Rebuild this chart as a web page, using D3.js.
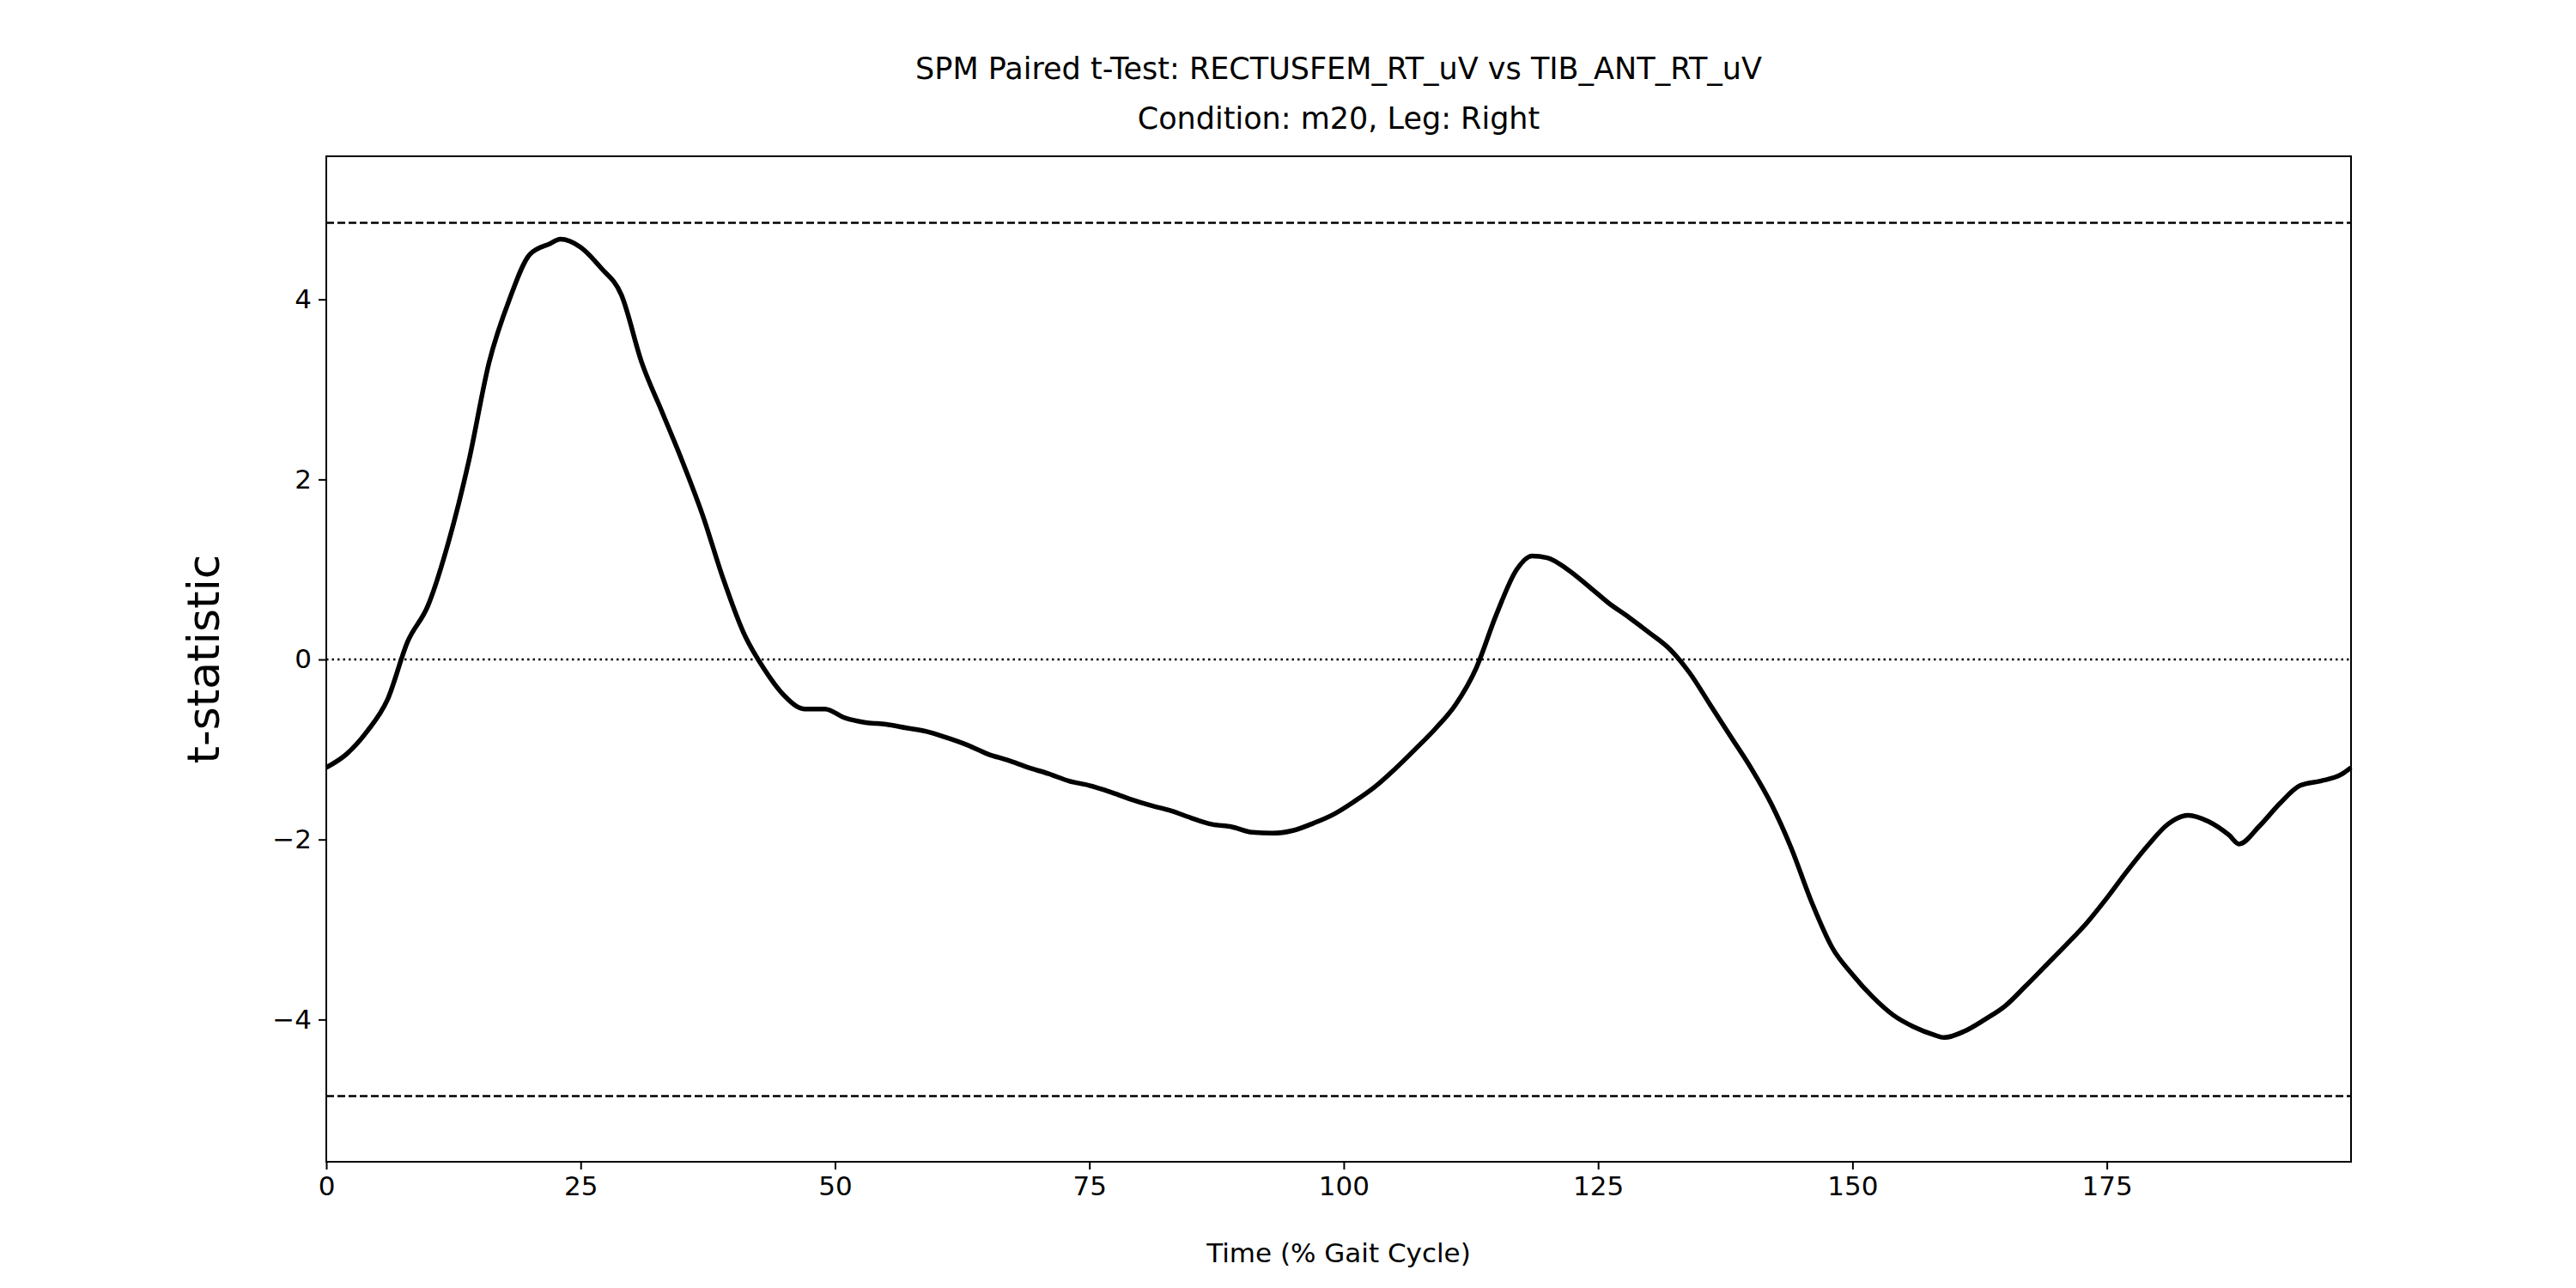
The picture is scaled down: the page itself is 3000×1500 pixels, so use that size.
<!DOCTYPE html>
<html>
<head>
<meta charset="utf-8">
<script src="https://cdn.jsdelivr.net/npm/d3@7"></script>
<style>
body { margin: 0; background: #fff; }
text { font-family: "DejaVu Sans", sans-serif; }
</style>
</head>
<body>
<script>
var timeValues = [0, 2, 4, 6, 8, 10, 12, 14, 16, 18, 20, 22, 23, 25, 27, 29, 31, 33, 35, 37, 39, 41, 43, 45, 47, 49,
	51, 53, 55, 57, 59, 61, 63, 65, 67, 69, 71, 73, 75, 77, 79, 81, 83, 85, 87, 89, 91, 93, 95, 97, 99,
	101, 103, 105, 107, 109, 111, 113, 115, 117, 118.5, 120, 122, 124, 126, 128, 130, 132, 134, 136, 138, 140,
	142, 144, 146, 148, 150, 152, 154, 156, 158, 159, 161, 163, 165, 167, 169, 171, 173, 175, 177, 179,
	181, 183, 185, 187, 188, 190, 192, 194, 196, 198, 199];
var tValues = [-1.2, -1.05, -0.8, -0.45, 0.2, 0.6, 1.3, 2.2, 3.3, 4.0, 4.5, 4.62, 4.67, 4.58, 4.35, 4.05, 3.3, 2.75, 2.2, 1.6, 0.9, 0.3, -0.1, -0.4, -0.55, -0.55,
	-0.65, -0.7, -0.72, -0.76, -0.8, -0.87, -0.95, -1.05, -1.12, -1.2, -1.27, -1.35, -1.4, -1.47, -1.55, -1.62, -1.68, -1.76, -1.83, -1.86, -1.92, -1.93, -1.9, -1.82, -1.72,
	-1.58, -1.42, -1.22, -1.0, -0.77, -0.5, -0.1, 0.5, 1.0, 1.15, 1.13, 1.0, 0.82, 0.63, 0.47, 0.3, 0.12, -0.15, -0.5, -0.85, -1.2,
	-1.6, -2.1, -2.7, -3.2, -3.5, -3.75, -3.95, -4.08, -4.17, -4.2, -4.13, -4.0, -3.85, -3.63, -3.4, -3.17, -2.93, -2.65, -2.35, -2.07,
	-1.83, -1.73, -1.8, -1.95, -2.05, -1.85, -1.6, -1.4, -1.35, -1.28, -1.2];
var xTicks = [0, 25, 50, 75, 100, 125, 150, 175];
var yTicks = [-4, -2, 0, 2, 4];
var threshold = 4.85;

var SIZE = { width: 3000, height: 1500 };
var M = { left: 380, right: 2738, top: 182, bottom: 1353 };

var svg = d3.select('body').append('svg')
	.attr('width', SIZE.width)
	.attr('height', SIZE.height);

var x = d3.scaleLinear().domain([0, 199]).range([M.left, M.right]);
var y = d3.scaleLinear().domain([-5.58, 5.59]).range([M.bottom, M.top]);

svg.append('g')
	.attr('transform', 'translate(0,' + M.bottom + ')')
	.call(d3.axisBottom(x).tickValues(xTicks).tickSize(9).tickPadding(8).tickFormat(d3.format('d')))
	.call(styleAxis);

svg.append('g')
	.attr('transform', 'translate(' + M.left + ',0)')
	.call(d3.axisLeft(y).tickValues(yTicks).tickSize(9).tickPadding(8)
		.tickFormat(function (d) { return d < 0 ? '\u2212' + Math.abs(d) : d; }))
	.call(styleAxis);

function styleAxis(g) {
	g.select('.domain').remove();
	g.selectAll('line').attr('stroke', '#000').attr('stroke-width', 2);
	g.selectAll('text').attr('font-size', 31).attr('fill', '#000');
}

// thresholds and zero
[threshold, -threshold].forEach(function (v) {
	svg.append('line')
		.attr('x1', M.left).attr('x2', M.right)
		.attr('y1', y(v)).attr('y2', y(v))
		.attr('stroke', '#000').attr('stroke-width', 2.5)
		.attr('stroke-dasharray', '9,4');
});
svg.append('line')
	.attr('x1', M.left).attr('x2', M.right)
	.attr('y1', y(0)).attr('y2', y(0))
	.attr('stroke', '#000').attr('stroke-width', 2.5)
	.attr('stroke-dasharray', '2.5,4');

var line = d3.line()
	.x(function (d) { return x(d[0]); })
	.y(function (d) { return y(d[1]); })
	.curve(d3.curveMonotoneX);

svg.append('path')
	.datum(d3.zip(timeValues, tValues))
	.attr('d', line)
	.attr('fill', 'none')
	.attr('stroke', '#000')
	.attr('stroke-width', 5.5)
	.attr('stroke-linejoin', 'round');

svg.append('rect')
	.attr('x', M.left).attr('y', M.top)
	.attr('width', M.right - M.left).attr('height', M.bottom - M.top)
	.attr('fill', 'none').attr('stroke', '#000').attr('stroke-width', 2);

var cx = (M.left + M.right) / 2;
svg.append('text').attr('x', cx).attr('y', 92).attr('text-anchor', 'middle')
	.attr('font-size', 35).text('SPM Paired t-Test: RECTUSFEM_RT_uV vs TIB_ANT_RT_uV');
svg.append('text').attr('x', cx).attr('y', 150).attr('text-anchor', 'middle')
	.attr('font-size', 35).text('Condition: m20, Leg: Right');
svg.append('text').attr('x', cx).attr('y', 1470).attr('text-anchor', 'middle')
	.attr('font-size', 31).text('Time (% Gait Cycle)');
svg.append('text')
	.attr('transform', 'translate(255,' + ((M.top + M.bottom) / 2) + ') rotate(-90)')
	.attr('text-anchor', 'middle')
	.attr('font-size', 52).text('t-statistic');
</script>
</body>
</html>
